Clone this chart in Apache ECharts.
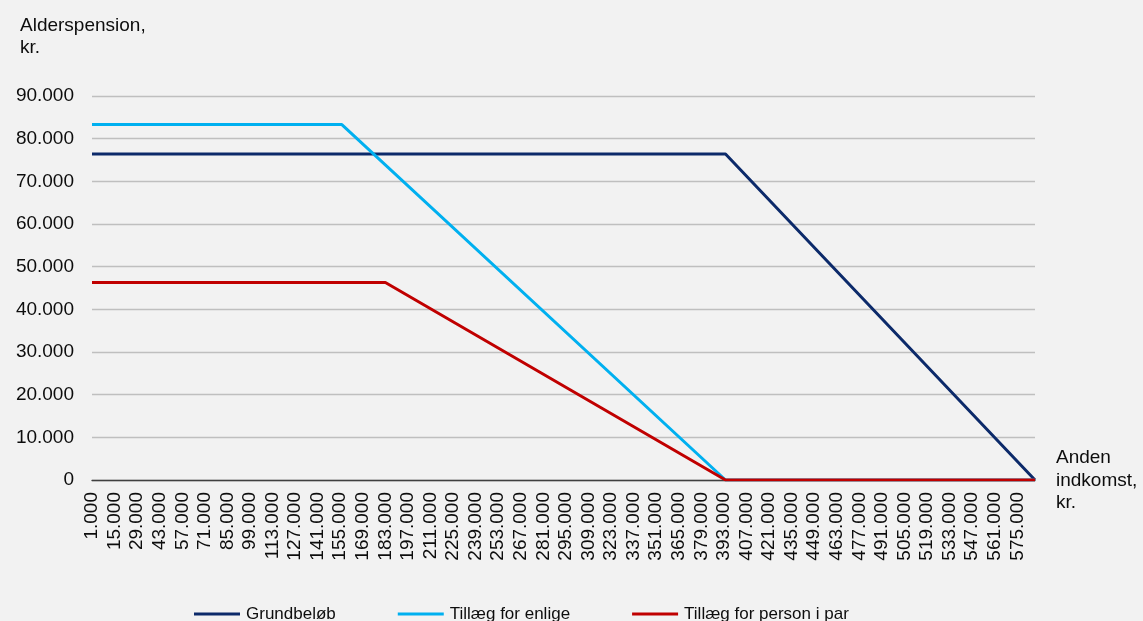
<!DOCTYPE html>
<html>
<head>
<meta charset="utf-8">
<script src="https://cdn.jsdelivr.net/npm/echarts@6/dist/echarts.min.js"></script>
<style>
html,body{margin:0;padding:0;background:#f2f2f2;}
#c{width:1143px;height:621px;}
</style>
</head>
<body>
<div id="c"></div>
<script>
// Income (x) axis: first and last category, tick step
var X_FIRST = 1000;
var X_LAST = 586000;
var X_STEP = 14000;
// Y axis
var Y_MAX = 90000;
var Y_STEP = 10000;

// Series breakpoints (income, kr.)
var grundX = [1000, 394000, 586000];
var grundY = [76400, 76400, 0];

var enligeX = [1000, 156000, 394000, 586000];
var enligeY = [83300, 83300, 0, 0];

var parX = [1000, 183000, 394000, 586000];
var parY = [46300, 46300, 0, 0];

var seriesNames = ['Grundbeløb', 'Tillæg for enlige', 'Tillæg for person i par'];
var seriesColors = ['#0c2a6a', '#00b0f0', '#c00000'];

function fmt(v) {
  return String(Math.round(v)).replace(/\B(?=(\d{3})+(?!\d))/g, '.');
}
function pairs(xs, ys) {
  return xs.map(function (x, i) { return [x - X_FIRST, ys[i]]; });
}

var FONT = 'Liberation Sans, Arial, sans-serif';
var TXT = '#0d0d0d';

var chart = echarts.init(document.getElementById('c'));
var dataSets = [pairs(grundX, grundY), pairs(enligeX, enligeY), pairs(parX, parY)];

chart.setOption({
  backgroundColor: '#f2f2f2',
  animation: false,
  grid: { left: 92, right: 108, top: 96, bottom: 141, containLabel: false },
  xAxis: {
    type: 'value',
    min: 0,
    max: X_LAST - X_FIRST,
    interval: X_STEP,
    axisLine: { show: true, onZero: true, lineStyle: { color: '#404040', width: 1.3 } },
    axisTick: { show: false },
    splitLine: { show: false },
    axisLabel: {
      rotate: 90,
      margin: 12,
      showMaxLabel: false,
      color: TXT,
      fontFamily: FONT,
      fontSize: 19,
      formatter: function (v) { return fmt(v + X_FIRST); }
    }
  },
  yAxis: {
    type: 'value',
    min: 0,
    max: Y_MAX,
    interval: Y_STEP,
    axisLine: { show: false },
    axisTick: { show: false },
    splitLine: { show: true, lineStyle: { color: '#bfbfbf', width: 1.3 } },
    axisLabel: {
      margin: 18,
      color: TXT,
      fontFamily: FONT,
      fontSize: 19,
      formatter: function (v) { return fmt(v); }
    }
  },
  legend: {
    left: 189,
    top: 600,
    itemWidth: 46,
    itemHeight: 3,
    itemGap: 62,
    textStyle: { color: TXT, fontFamily: FONT, fontSize: 17, lineHeight: 18, padding: [0, 0, 0, 1] },
    data: seriesNames.map(function (n, i) {
      return { name: n, icon: 'rect', itemStyle: { color: seriesColors[i], opacity: 1 } };
    })
  },
  graphic: [
    {
      type: 'text', left: 20, top: 15,
      style: { text: 'Alderspension,\nkr.', font: '19px ' + FONT, fill: TXT, lineHeight: 22 }
    },
    {
      type: 'text', left: 1056, top: 447,
      style: { text: 'Anden\nindkomst,\nkr.', font: '19px ' + FONT, fill: TXT, lineHeight: 22.5 }
    }
  ],
  series: seriesNames.map(function (n, i) {
    return {
      name: n,
      type: 'line',
      data: dataSets[i],
      symbol: 'none',
      itemStyle: { color: seriesColors[i] },
      lineStyle: { color: seriesColors[i], width: 3 },
      z: 3 + i
    };
  })
});
</script>
</body>
</html>
